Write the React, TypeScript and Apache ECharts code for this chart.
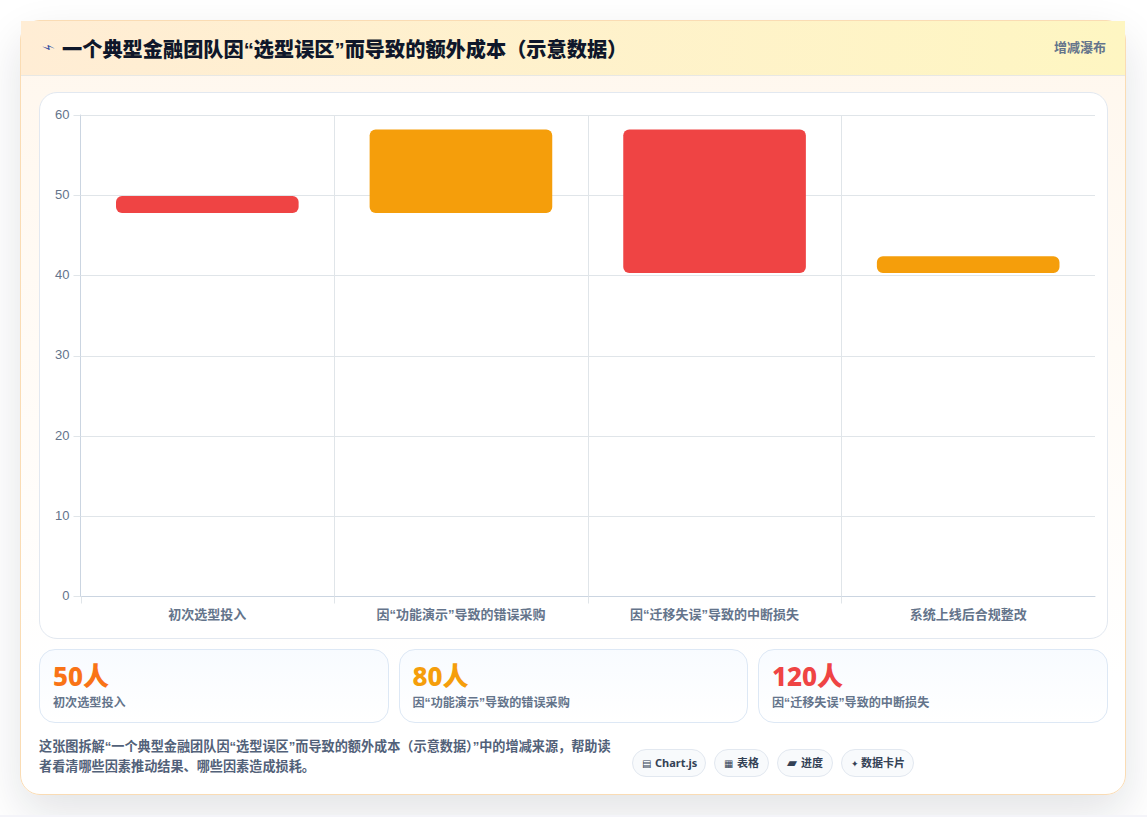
import React, { useEffect, useRef } from "react";
import * as echarts from "echarts";

const categories = ["初次选型投入", "因“功能演示”导致的错误采购", "因“迁移失误”导致的中断损失", "系统上线后合规整改"];
const baseValues = [47.8, 47.8, 40.3, 40.3];
const deltaValues = [2.1, 10.4, 17.9, 2.1];
const barColors = ["#ef4444", "#f59e0b", "#ef4444", "#f59e0b"];
const yTicks = { min: 0, max: 60, interval: 10 };
const stats = [
  { value: "50人", label: "初次选型投入", color: "#f97316" },
  { value: "80人", label: "因“功能演示”导致的错误采购", color: "#f59e0b" },
  { value: "120人", label: "因“迁移失误”导致的中断损失", color: "#ef4444" },
];
const chipIcons = ["▤", "▦", "▰", "✦"];
const chipTexts = ["Chart.js", "表格", "进度", "数据卡片"];
const chipIconBoxes = [13, 13, 14, 10];
const chipIconSizes = [10, 10, 13, 9];
const chipWidths = [74, 55, 56, 73];
const titleText = "一个典型金融团队因“选型误区”而导致的额外成本（示意数据）";
const badgeText = "增减瀑布";
const noteText = "这张图拆解“一个典型金融团队因“选型误区”而导致的额外成本（示意数据）”中的增减来源，帮助读者看清哪些因素推动结果、哪些因素造成损耗。";
const FONT = '"Liberation Sans", "Noto Sans CJK SC", sans-serif';
const NUM_FONT = '"Noto Sans", "Noto Sans CJK SC", sans-serif';
const GRID = "#e0e5e9";

export default function App() {
  const ref = useRef<HTMLDivElement>(null);
  useEffect(() => {
    const chart = echarts.init(ref.current!, undefined, { renderer: "svg" });
    chart.setOption({
      animation: false,
      grid: { left: 40.5, right: 12, top: 22, bottom: 41.5, containLabel: false },
      xAxis: {
        type: "category",
        data: categories,
        axisLine: { show: true, lineStyle: { color: "#cbd5e1", width: 1 } },
        axisTick: { show: false },
        splitLine: { show: true, showMaxLine: false, lineStyle: { color: GRID, width: 1 } },
        axisLabel: { color: "#64748b", fontSize: 13, fontWeight: 600, fontFamily: FONT, margin: 11, interval: 0 },
      },
      yAxis: {
        type: "value",
        min: yTicks.min,
        max: yTicks.max,
        interval: yTicks.interval,
        axisLine: { show: true, lineStyle: { color: "#cbd5e1", width: 1 } },
        axisTick: { show: true, length: 7, lineStyle: { color: GRID } },
        splitLine: { show: true, lineStyle: { color: GRID, width: 1 } },
        axisLabel: {
          margin: 11,
          formatter: "{t|{value}}",
          rich: { t: { color: "#64748b", fontSize: 13, fontFamily: '"Liberation Sans", sans-serif', padding: [0, 0, 2, 0] } },
        },
      },
      series: [
        { type: "bar", stack: "w", data: baseValues, barWidth: "72%", itemStyle: { color: "transparent" }, silent: true },
        {
          type: "bar",
          stack: "w",
          barWidth: "72%",
          data: deltaValues.map((v, i) => ({ value: v, itemStyle: { color: barColors[i], borderRadius: 6 } })),
        },
        {
          // Band-edge ticks below the x axis; the reference has none at the far right end.
          type: "custom",
          silent: true,
          clip: false,
          data: categories.map((_, i) => [i, 0]),
          renderItem: (_params: any, api: any) => {
            const p = api.coord([api.value(0), 0]);
            const x = Math.round(p[0] - api.size([1, 0])[0] / 2) + 0.5;
            return {
              type: "line",
              shape: { x1: x, y1: p[1], x2: x, y2: p[1] + 7 },
              style: { stroke: GRID, lineWidth: 1 },
            };
          },
        },
      ],
    });
    return () => chart.dispose();
  }, []);

  return (
    <div style={{ position: "relative", width: 1147, height: 817, overflow: "hidden", fontFamily: FONT, background: "#fff" }}>
      <style>{`html,body{margin:0;background:#fff}`}</style>
      <div
        style={{
          position: "absolute", left: 20, top: 20, width: 1106, height: 775, boxSizing: "border-box",
          borderRadius: 20, border: "1px solid #fadcb4",
          background: "linear-gradient(180deg,#fff7ed 0%,#ffffff 85%)",
          boxShadow: "0 18px 45px rgba(15,23,42,0.12)",
        }}
      >
        <div
          style={{
            position: "absolute", left: 0, top: 0, right: 0, height: 55, boxSizing: "border-box",
            background: "linear-gradient(90deg,#ffedd5,#fef6c2)", borderBottom: "1px solid #e8e8e4",
          }}
        >
          <span style={{ position: "absolute", left: 22, top: 17, fontFamily: '"DejaVu Sans"', fontSize: 13, lineHeight: "20px", color: "#2f4aa0", transform: "rotate(62deg)" }}>{"⚡\uFE0E"}</span>
          <div style={{ position: "absolute", left: 41, top: 15, fontSize: 20.2, fontWeight: 800, lineHeight: "28px", color: "#0f172a", whiteSpace: "nowrap" }}>{titleText}</div>
          <div style={{ position: "absolute", right: 19, top: 18, fontSize: 13, fontWeight: 700, lineHeight: "18px", color: "#64748b" }}>{badgeText}</div>
        </div>
        <div style={{ position: "absolute", left: 18, top: 71, width: 1069, height: 547, boxSizing: "border-box", background: "#fff", border: "1px solid #e2e8f0", borderRadius: 18, overflow: "hidden" }}>
          <div ref={ref} style={{ width: 1067, height: 545 }} />
        </div>
        {stats.map((s, i) => (
          <div key={s.label} style={{ position: "absolute", left: 18 + i * 359.5, top: 628, width: 349.5, height: 74, boxSizing: "border-box", borderRadius: 16, border: "1px solid #dde8f5", background: "linear-gradient(180deg,#f8fbff,#ffffff)" }}>
            <div style={{ position: "absolute", left: 13, top: 8, fontFamily: NUM_FONT, fontSize: 26, fontWeight: 800, lineHeight: "36px", color: s.color, whiteSpace: "nowrap" }}>{s.value}</div>
            <div style={{ position: "absolute", left: 13, top: 44, fontSize: 12.1, fontWeight: 600, lineHeight: "18px", color: "#64748b", whiteSpace: "nowrap" }}>{s.label}</div>
          </div>
        ))}
        <div style={{ position: "absolute", left: 18, top: 716, width: 580, fontSize: 13.15, fontWeight: 600, lineHeight: "20px", color: "#526179" }}>{noteText}</div>
        <div style={{ position: "absolute", left: 611, top: 728, display: "flex", gap: 8 }}>
          {chipTexts.map((t, i) => (
            <div key={t} style={{ width: chipWidths[i], height: 28, boxSizing: "border-box", paddingLeft: 9, borderRadius: 14, border: "1px solid #e2e8f0", background: "#f8fafc", fontFamily: NUM_FONT, fontSize: 11, fontWeight: 700, lineHeight: "26px", color: "#334155", whiteSpace: "nowrap" }}>
              <span style={{ display: "inline-block", width: chipIconBoxes[i], fontFamily: '"DejaVu Sans"', fontSize: chipIconSizes[i], verticalAlign: "baseline" }}>{chipIcons[i]}</span>{t}
            </div>
          ))}
        </div>
      </div>
      <div style={{ position: "absolute", left: 0, right: 0, top: 815, height: 2, background: "#f4f4f9" }} />
    </div>
  );
}
